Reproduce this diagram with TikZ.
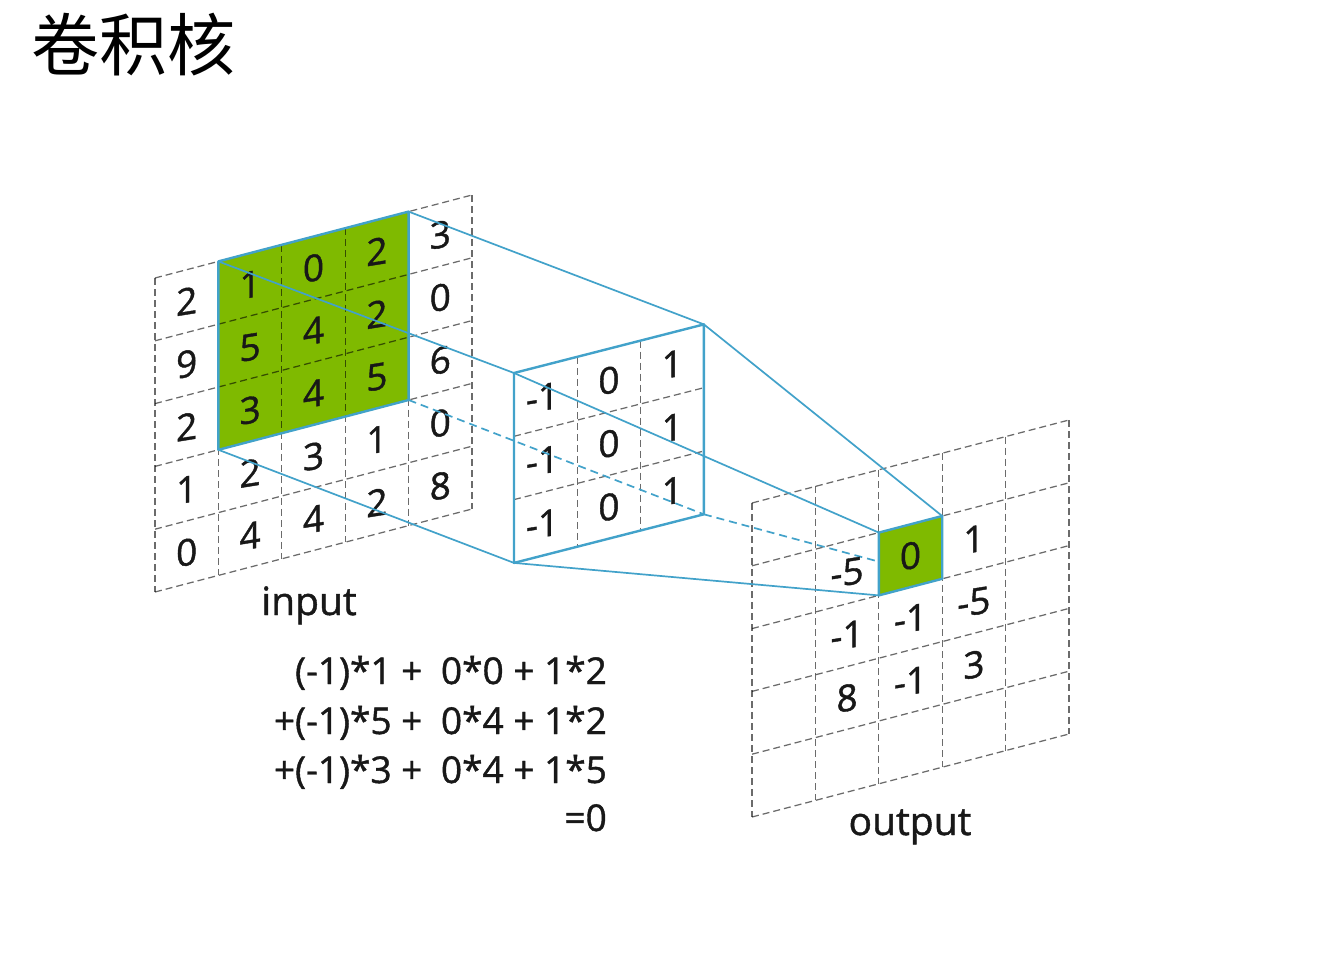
\documentclass[tikz,border=0pt]{standalone}
\usepackage{fontspec}
\setmainfont{Open Sans}[FakeBold=1.1]
\newfontfamily\cjk{Noto Sans CJK SC}
\definecolor{kgreen}{RGB}{127,186,0}
\definecolor{linkblue}{RGB}{66,162,202}
\definecolor{ink}{RGB}{24,24,24}
\begin{document}
\begin{tikzpicture}[x=1pt,y=-1pt,
  gridline/.style={draw=black, draw opacity=0.58, line width=1.25pt, dash pattern=on 7pt off 4pt},
  conn/.style={draw=linkblue, line width=1.7pt},
  hidconn/.style={draw=linkblue, line width=1.7pt, dash pattern=on 8pt off 5pt},
  frame/.style={draw=linkblue, line width=2.4pt, line join=round},
  num/.style={font=\fontsize{37}{37}\selectfont, text=ink, yslant=0.16, inner sep=0pt},
  knum/.style={font=\fontsize{37}{37}\selectfont, text=ink, yslant=0.16, inner sep=0pt},
  lab/.style={font=\fontsize{39}{39}\selectfont, text=ink, inner sep=0pt, anchor=base},
  formula/.style={font=\fontsize{37}{37}\selectfont, text=ink, inner sep=0pt, anchor=base east}]
\useasboundingbox[fill=white] (0,0) rectangle (1318,972);

% title
\node[anchor=west, inner sep=0pt, font=\cjk\fontsize{68}{68}\selectfont, text=black] (title) at (31,45) {卷积核};

% ---------------- input grid ----------------
\begin{scope}[shift={(155,278)}, x={(63.4pt,16.6pt)}, y={(0pt,-62.8pt)}]
  \fill[kgreen] (1,0) -- (4,0) -- (4,3) -- (1,3) -- cycle;
  \foreach \i in {0,...,5} {
    \draw[gridline] (\i,0) -- (\i,5);
    \draw[gridline] (0,\i) -- (5,\i);
  }
  \coordinate (inTL) at (1,0);
  \coordinate (inTR) at (4,0);
  \coordinate (inBR) at (4,3);
  \coordinate (inBL) at (1,3);
  \draw[frame] (inTL) -- (inTR) -- (inBR) -- (inBL) -- cycle;
  \foreach \r/\vals in {0/{2,1,0,2,3}, 1/{9,5,4,2,0}, 2/{2,3,4,5,6}, 3/{1,2,3,1,0}, 4/{0,4,4,2,8}} {
    \foreach \v [count=\c from 0] in \vals {
      \node[num] (in-\r-\c) at (\c+0.5,\r+0.5) {\v};
    }
  }
\end{scope}

% ---------------- kernel ----------------
\begin{scope}[shift={(514,373)}, x={(63.3pt,16.2pt)}, y={(0pt,-63.3pt)}]
  \foreach \i in {1,2} {
    \draw[gridline] (\i,0) -- (\i,3);
    \draw[gridline] (0,\i) -- (3,\i);
  }
  \coordinate (kTL) at (0,0);
  \coordinate (kTR) at (3,0);
  \coordinate (kBR) at (3,3);
  \coordinate (kBL) at (0,3);
  \draw[frame] (kTL) -- (kTR) -- (kBR) -- (kBL) -- cycle;
  \foreach \r in {0,1,2} {
    \node[knum] (k-\r-0) at (0.45,\r+0.5) {-1};
    \node[knum] (k-\r-1) at (1.5,\r+0.5) {0};
    \node[knum] (k-\r-2) at (2.5,\r+0.5) {1};
  }
\end{scope}

% ---------------- output grid ----------------
\begin{scope}[shift={(752,503)}, x={(63.4pt,16.6pt)}, y={(0pt,-62.8pt)}]
  \foreach \i in {0,...,5} {
    \draw[gridline] (\i,0) -- (\i,5);
    \draw[gridline] (0,\i) -- (5,\i);
  }
  \coordinate (oTL) at (2,1);
  \coordinate (oTR) at (3,1);
  \coordinate (oBR) at (3,2);
  \coordinate (oBL) at (2,2);
  \foreach \r/\vals in {1/{-5,0,1}, 2/{-1,-1,-5}, 3/{8,-1,3}} {
    \foreach \v [count=\c from 1] in \vals {
      \coordinate (oc-\r-\c) at (\c+0.5,\r+0.5);
    }
  }
\end{scope}

% connectors input -> kernel
\draw[conn] (inTR) -- (kTR);
\draw[conn] (inTL) -- (kTL);
\draw[hidconn] (inBR) -- (kBR);
\draw[conn] (inBL) -- (kBL);

% kernel -> output (hidden one under the cell)
\draw[hidconn] (kBR) -- (oBR);
\fill[kgreen] (oTL) -- (oTR) -- (oBR) -- (oBL) -- cycle;
\draw[frame] (oTL) -- (oTR) -- (oBR) -- (oBL) -- cycle;
\draw[conn] (kTL) -- (oTL);
\draw[conn] (kTR) -- (oTR);
\draw[conn] (kBL) -- (oBL);

% output numbers
\foreach \r/\vals in {1/{-5,0,1}, 2/{-1,-1,-5}, 3/{8,-1,3}} {
  \foreach \v [count=\c from 1] in \vals {
    \node[num] (out-\r-\c) at (oc-\r-\c) {\v};
  }
}

% labels
\node[lab] (inputlabel) at (309,615) {input};
\node[lab] (outputlabel) at (910,835) {output};

% formula
\node[formula] (f1) at (607,684) {(-1)*1 + \kern9pt 0*0 + 1*2};
\node[formula] (f2) at (607,734) {+(-1)*5 + \kern9pt 0*4 + 1*2};
\node[formula] (f3) at (607,783) {+(-1)*3 + \kern9pt 0*4 + 1*5};
\node[formula] (f4) at (607,831) {=0};
\end{tikzpicture}
\end{document}
